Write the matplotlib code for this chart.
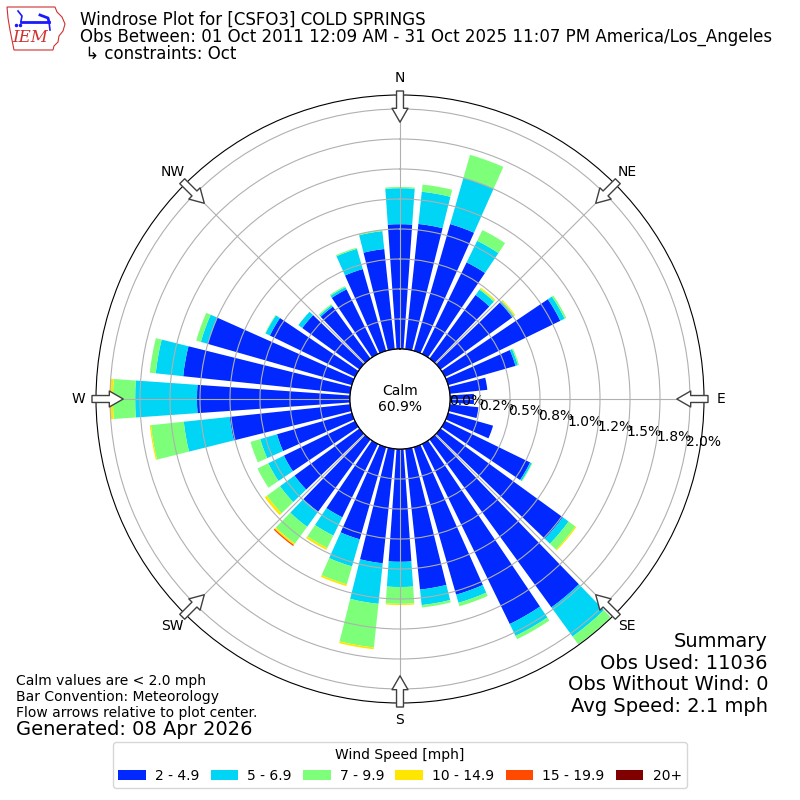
import numpy as np
import matplotlib
matplotlib.use("Agg")
import matplotlib.pyplot as plt
from matplotlib.patches import FancyArrowPatch, Polygon

# wind direction bins (degrees, meteorological)
directions = list(range(0, 360, 10))

speed_bins = ["2 - 4.9", "5 - 6.9", "7 - 9.9", "10 - 14.9", "15 - 19.9", "20+"]
bin_colors = ["#0028ff", "#00d5f5", "#7dff7a", "#ffe600", "#ff4a00", "#800000"]

# percent of observations, one list per speed bin, ordered by direction
pct_2_5 = [1.04, 1.05, 1.10, 0.85, 0.655, 0.74, 1.07, 0.585, 0.315, 0.20, 0.24, 0.39,
           0.79, 1.26, 1.73, 1.67, 1.28, 1.18, 0.94, 0.96, 0.80, 0.68, 0.743, 0.67,
           0.66, 0.65, 1.01, 1.275, 1.40, 1.25, 0.79, 0.59, 0.535, 0.60, 0.71, 0.84]
pct_5_7 = [0.30, 0.27, 0.40, 0.20, 0.055, 0.014, 0.04, 0.02, 0, 0, 0, 0,
           0.015, 0.06, 0.30, 0.11, 0.07, 0.13, 0.21, 0.34, 0.235, 0.17, 0.157, 0.15,
           0.145, 0.145, 0.385, 0.515, 0.23, 0.06, 0.04, 0.04, 0.015, 0.02, 0.175, 0.15]
pct_7_10 = [0.01, 0.06, 0.20, 0.10, 0.01, 0.01, 0.015, 0.01, 0, 0, 0, 0,
            0.005, 0.07, 0.08, 0.03, 0.03, 0.02, 0.14, 0.365, 0.155, 0.115, 0.173, 0.135,
            0.10, 0.085, 0.275, 0.185, 0.05, 0.04, 0.005, 0, 0.01, 0.01, 0.01, 0.01]
pct_10_15 = [0, 0, 0, 0, 0.01, 0.008, 0, 0, 0, 0, 0, 0,
             0, 0.01, 0, 0, 0, 0, 0.01, 0.015, 0.015, 0.017, 0.014, 0.022,
             0, 0, 0.01, 0.025, 0, 0, 0, 0, 0, 0, 0, 0]
pct_15_20 = [0, 0, 0, 0, 0, 0, 0, 0, 0, 0, 0, 0,
             0, 0, 0, 0, 0, 0, 0, 0, 0, 0, 0.011, 0,
             0, 0, 0, 0, 0, 0, 0, 0, 0, 0, 0, 0]
pct_20up = [0] * 36

calm_pct = 60.9
rticks = [0, 0.25, 0.5, 0.75, 1.0, 1.25, 1.5, 1.75, 2.0]
compass_deg = [0, 45, 90, 135, 180, 225, 270, 315]
compass_lbl = ["N", "NE", "E", "SE", "S", "SW", "W", "NW"]

title_lines = [
    "Windrose Plot for [CSFO3] COLD SPRINGS",
    "Obs Between: 01 Oct 2011 12:09 AM - 31 Oct 2025 11:07 PM America/Los_Angeles",
    " \u21b3 constraints: Oct",
]
summary_lines = ["Summary", "Obs Used: 11036", "Obs Without Wind: 0", "Avg Speed: 2.1 mph"]
note_lines = ["Calm values are < 2.0 mph", "Bar Convention: Meteorology",
              "Flow arrows relative to plot center."]

fig = plt.figure(figsize=(8, 8), dpi=100)
ax = fig.add_axes([0.12, 0.12125, 0.76, 0.76], projection="polar")
ax.set_theta_zero_location("N")
ax.set_theta_direction(-1)
ax.set_rorigin(-0.4167)
ax.set_ylim(0, 2.1167)

theta = np.deg2rad(directions)
width = np.deg2rad(8)
bottom = np.zeros(len(directions))
series = [pct_2_5, pct_5_7, pct_7_10, pct_10_15, pct_15_20, pct_20up]
for vals, lbl, col in zip(series, speed_bins, bin_colors):
    vals = np.array(vals)
    ax.bar(theta, vals, width=width, bottom=bottom, color=col, linewidth=0,
           label=lbl)
    bottom += vals

# calm circle
tt = np.linspace(0, 2 * np.pi, 361)
ax.plot(tt, np.zeros_like(tt), color="black", lw=1, zorder=3)
ax.text(0.5, 0.5, "Calm\n%.1f%%" % calm_pct, transform=ax.transAxes,
        ha="center", va="center", fontsize=10)

ax.set_yticks(rticks)
ax.set_yticklabels(["%.1f%%" % v for v in rticks], fontsize=10)
ax.set_rlabel_position(100)
ax.set_xticks(np.deg2rad(compass_deg))
ax.set_xticklabels(compass_lbl, fontsize=10)
ax.tick_params(axis="x", pad=2)

# flow arrows at the compass points
for d in compass_deg:
    arr = FancyArrowPatch(
        (np.deg2rad(d), 2.15), (np.deg2rad(d), 1.89),
        arrowstyle="simple,head_length=1.0,head_width=1.15,tail_width=0.5",
        mutation_scale=10, shrinkA=0, shrinkB=0, facecolor="white",
        edgecolor="#404040", lw=1, transform=ax.transData, clip_on=False,
        zorder=5)
    ax.add_patch(arr)

# header text
for i, line in enumerate(title_lines):
    fig.text(0.1, 1 - (25 + 17 * i) / 800, line, fontsize=12, va="baseline")

for i, line in enumerate(summary_lines):
    fig.text(0.96, 1 - (647 + 21.7 * i) / 800, line, fontsize=14, ha="right",
             va="baseline")

for i, line in enumerate(note_lines):
    fig.text(0.02, 1 - (685 + 16 * i) / 800, line, fontsize=10, va="baseline")
fig.text(0.02, 1 - 735 / 800, "Generated: 08 Apr 2026", fontsize=14, va="baseline")

ax.legend(loc="lower center", bbox_to_anchor=(0.5, 0.006), bbox_transform=fig.transFigure,
          ncol=6, title="Wind Speed [mph]", fontsize=10, title_fontsize=10,
          columnspacing=0.8, handletextpad=0.65)

# IEM logo (rough)
logo = fig.add_axes([0, 0.93, 0.085, 0.07])
logo.set_xlim(0, 68)
logo.set_ylim(56, 0)
logo.axis("off")
iowa = [(7, 7), (55, 7), (57, 12), (62, 17), (65, 24), (63, 31), (59, 36),
        (58, 42), (54, 46), (53, 50), (14, 50), (12, 40), (10, 30), (8, 18)]
logo.add_patch(Polygon(iowa, closed=True, fill=False, edgecolor="#d03030", lw=0.8))
logo.plot([21, 49], [22, 22], color="#1a1aff", lw=2)
logo.plot([18, 22, 21], [11, 16, 21], color="#1a1aff", lw=1.2)
logo.plot([40, 48, 49], [15, 18, 22], color="#1a1aff", lw=2)
logo.plot([49, 50], [22, 30], color="#1a1aff", lw=1.2)
logo.plot([16, 20], [25, 25], "o", color="#1a1aff", ms=1.5)
logo.text(30, 42, "IEM", color="#d03030", fontsize=12, family="DejaVu Serif",
          style="italic", ha="center", va="baseline")

fig.savefig("out.png", dpi=100)
